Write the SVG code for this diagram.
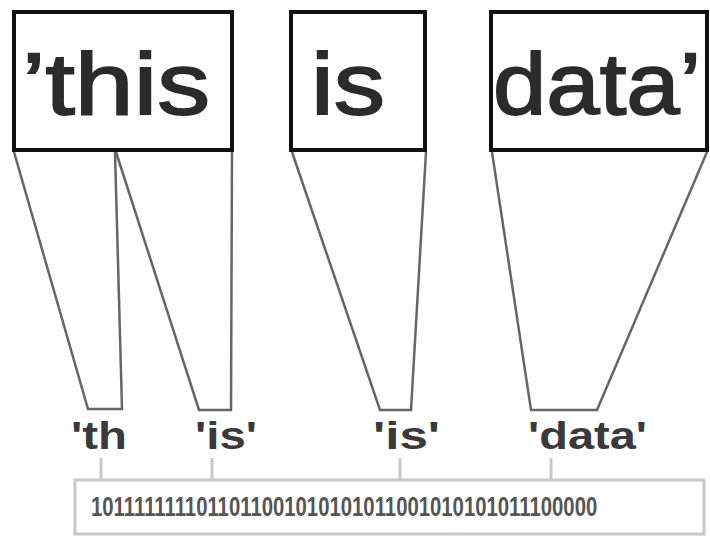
<svg xmlns="http://www.w3.org/2000/svg" width="710" height="538" viewBox="0 0 710 538">
  <style>
    .word { fill: none; stroke: #111; stroke-width: 4; }
    .big { font-family: "Liberation Sans", Arial, sans-serif; font-size: 88px; fill: #2b2b2b; stroke: #2b2b2b; stroke-width: 1.8; }
    .lbl { font-family: "Liberation Sans", Arial, sans-serif; font-size: 39px; font-weight: bold; fill: #3a3a3a; }
    .bits { font-family: "Liberation Sans", Arial, sans-serif; font-size: 19.6px; font-weight: bold; fill: #555; }
    .funnel { fill: none; stroke: #666; stroke-width: 2.5; stroke-linejoin: miter; }
    .tick { stroke: #c8c8c8; stroke-width: 3; }
    .strip { fill: #fff; stroke: #c8c8c8; stroke-width: 3; }
  </style>
  <rect width="710" height="538" fill="#fff"/>
  <g id="connectors">
    <polyline class="funnel" points="14,152 88,409 122,409 115,152"/>
    <polyline class="funnel" points="116,152 199,410 231,410 232,152"/>
    <polyline class="funnel" points="292,152 380,410 411,410 426,152"/>
    <polyline class="funnel" points="492,152 531,410 597,410 707,152"/>
    <line class="tick" x1="101" y1="458" x2="101" y2="479"/>
    <line class="tick" x1="212" y1="458" x2="212" y2="479"/>
    <line class="tick" x1="400" y1="458" x2="400" y2="479"/>
    <line class="tick" x1="551" y1="458" x2="551" y2="479"/>
  </g>
  <g id="box-this">
    <rect class="word" x="14" y="12" width="218" height="138"/>
    <text class="big" x="22" y="114" textLength="188" lengthAdjust="spacingAndGlyphs">’this</text>
  </g>
  <g id="box-is">
    <rect class="word" x="291" y="12" width="134" height="138"/>
    <text class="big" x="311" y="114" textLength="74" lengthAdjust="spacingAndGlyphs">is</text>
  </g>
  <g id="box-data">
    <rect class="word" x="491" y="12" width="216" height="138"/>
    <text class="big" x="493" y="114" textLength="208" lengthAdjust="spacingAndGlyphs">data’</text>
  </g>
  <g id="label-th">
    <text class="lbl" x="71" y="449" textLength="56" lengthAdjust="spacingAndGlyphs">'th</text>
  </g>
  <g id="label-is-1">
    <text class="lbl" x="195" y="449" textLength="62" lengthAdjust="spacingAndGlyphs">'is'</text>
  </g>
  <g id="label-is-2">
    <text class="lbl" x="373" y="449" textLength="67" lengthAdjust="spacingAndGlyphs">'is'</text>
  </g>
  <g id="label-data">
    <text class="lbl" x="528" y="449" textLength="119" lengthAdjust="spacingAndGlyphs">'data'</text>
  </g>
  <g id="bitstring">
    <rect class="strip" x="75" y="480" width="629" height="54"/>
    <text class="bits" transform="translate(91,516) scale(1.037,1.43)" x="0" y="0">1011111111011011001010101011001010101011100000</text>
  </g>
</svg>
